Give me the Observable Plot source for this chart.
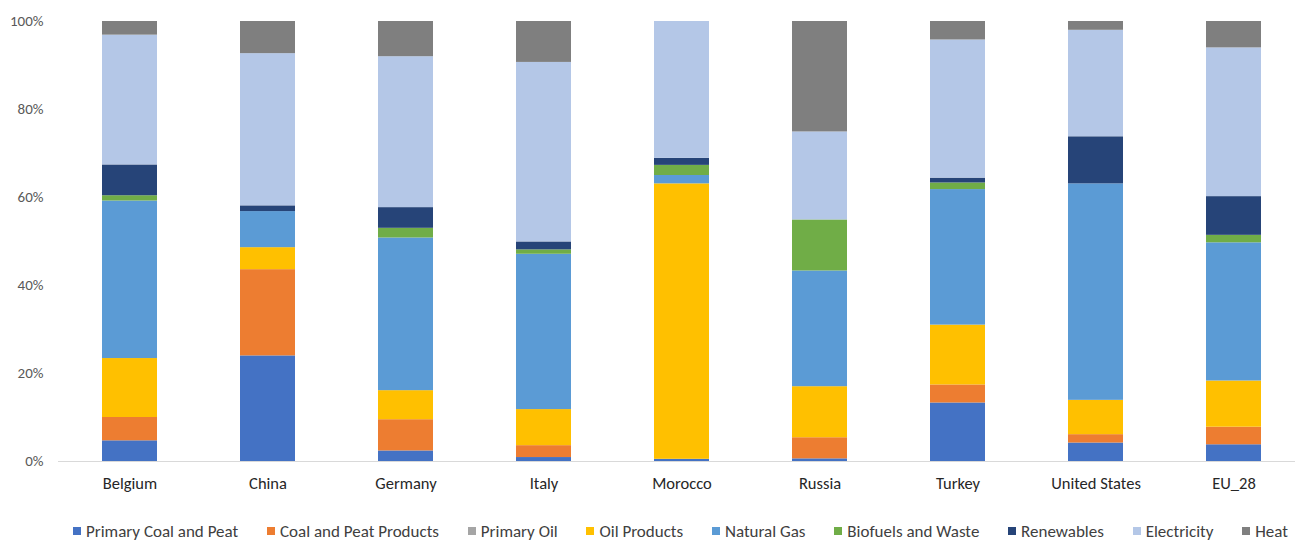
<!DOCTYPE html>
<html>
<head>
<meta charset="utf-8">
<script src="https://cdn.jsdelivr.net/npm/d3@7"></script>
<script src="https://cdn.jsdelivr.net/npm/@observablehq/plot@0.6"></script>
<style>
  body { margin: 0; background: #fff; font-family: Carlito, Calibri, Lato, "Liberation Sans", sans-serif; }
  #chart { width: 1295px; }
  .legend { display: flex; justify-content: space-between; width: 1215px; margin-top: 20px; margin-left: 73px;
            height: 20px; align-items: center; font-size: 17px; color: #404040; }
  .legend .item { display: flex; align-items: center; gap: 5px; white-space: nowrap; }
  .legend .sw { width: 8px; height: 8px; display: inline-block; }
</style>
</head>
<body>
<div id="chart"></div>
<script>
// Final energy consumption by carrier, share of total (%)
const countries = ["Belgium", "China", "Germany", "Italy", "Morocco", "Russia", "Turkey", "United States", "EU_28"];
const seriesNames = ["Primary Coal and Peat", "Coal and Peat Products", "Primary Oil", "Oil Products",
                     "Natural Gas", "Biofuels and Waste", "Renewables", "Electricity", "Heat"];
const seriesColors = ["#4472C4", "#ED7D31", "#A5A5A5", "#FFC000", "#5B9BD5", "#70AD47", "#264478", "#B4C7E7", "#7F7F7F"];

const primaryCoal  = [4.7, 24.0, 2.4, 0.9, 0.5, 0.6, 13.3, 4.2, 3.8];
const coalProducts = [5.3, 19.6, 7.1, 2.7, 0.0, 4.8, 4.1, 1.9, 4.0];
const primaryOil   = [0, 0, 0, 0, 0, 0, 0, 0, 0];
const oilProducts  = [13.4, 5.0, 6.6, 8.2, 62.6, 11.6, 13.6, 7.8, 10.5];
const naturalGas   = [35.8, 8.2, 34.7, 35.3, 1.9, 26.3, 30.8, 49.2, 31.4];
const biofuels     = [1.2, 0.0, 2.2, 1.0, 2.3, 11.6, 1.5, 0.0, 1.7];
const renewables   = [7.0, 1.3, 4.7, 1.8, 1.6, 0.0, 1.1, 10.7, 8.8];
const electricity  = [29.5, 34.6, 34.3, 40.8, 31.1, 20.0, 31.4, 24.2, 33.8];
const heat         = [3.1, 7.3, 8.0, 9.3, 0.0, 25.1, 4.2, 2.0, 6.0];

const yTicks = [0, 20, 40, 60, 80, 100];

const seriesValues = [primaryCoal, coalProducts, primaryOil, oilProducts, naturalGas, biofuels, renewables, electricity, heat];

// long-format table for the stacked bars
const rows = [];
seriesNames.forEach((name, si) => {
  countries.forEach((c, ci) => rows.push({country: c, carrier: name, share: seriesValues[si][ci]}));
});

const chart = Plot.plot({
  width: 1295,
  height: 501,
  marginTop: 21,
  marginBottom: 40,
  marginLeft: 58,
  marginRight: 0,
  style: {fontFamily: "Carlito, Calibri, Lato, 'Liberation Sans', sans-serif", fontSize: "15px", color: "#404040", background: "#fff"},
  x: {domain: countries, range: [58.4, 1305.8], paddingInner: 0.6, paddingOuter: 0.3, label: null, tickSize: 0, tickPadding: 16},
  y: {domain: [0, 100], ticks: yTicks, tickFormat: d => d + "%", label: null, tickSize: 0, tickPadding: 15},
  color: {domain: seriesNames, range: seriesColors},
  marks: [
    Plot.barY(rows, Plot.stackY({order: seriesNames}, {x: "country", y: "share", fill: "carrier", inset: 0})),
    Plot.ruleY([0], {stroke: "#d9d9d9", strokeWidth: 1.2})
  ]
});
chart.querySelectorAll("[aria-label='y-axis tick label'] text").forEach(t => t.setAttribute("fill", "#595959"));
const xLabels = chart.querySelector("[aria-label='x-axis tick label']");
if (xLabels) { xLabels.setAttribute("font-size", "16.5"); xLabels.setAttribute("fill", "#262626"); }
document.getElementById("chart").appendChild(chart);

// legend row below the plot
const legend = document.createElement("div");
legend.className = "legend";
seriesNames.forEach((name, i) => {
  const item = document.createElement("div");
  item.className = "item";
  const sw = document.createElement("span");
  sw.className = "sw";
  sw.style.background = seriesColors[i];
  const label = document.createElement("span");
  label.textContent = name;
  item.appendChild(sw);
  item.appendChild(label);
  legend.appendChild(item);
});
document.getElementById("chart").appendChild(legend);
</script>
</body>
</html>
